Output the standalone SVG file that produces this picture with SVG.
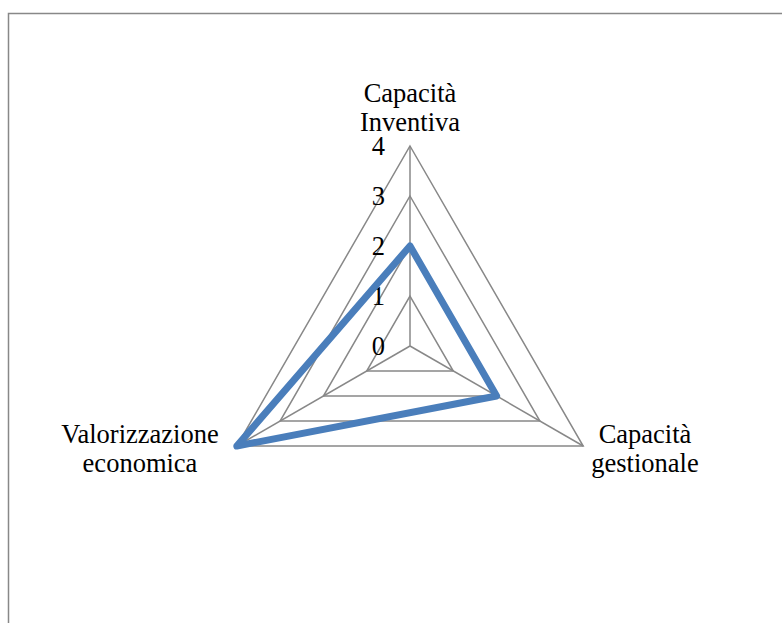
<svg xmlns="http://www.w3.org/2000/svg" width="782" height="623" viewBox="0 0 782 623">
<style>
text{font-family:"Liberation Serif","Times New Roman",serif;font-size:26.5px;fill:#000}
.g{fill:none;stroke:#888;stroke-width:1.5}
.lbl{text-anchor:middle}
.tick{text-anchor:end}
</style>
<rect x="0" y="0" width="782" height="623" fill="#fff"/>
<rect x="8.5" y="13.5" width="800" height="640" fill="none" stroke="#888" stroke-width="1.5"/>
<g id="grid">
<polygon class="g" points="410,296 453.3,371 366.7,371"/>
<polygon class="g" points="410,246 496.6,396 323.4,396"/>
<polygon class="g" points="410,196 539.9,421 280.1,421"/>
<polygon class="g" points="410,146 583.2,446 236.8,446"/>
<line class="g" x1="410" y1="346" x2="410" y2="146"/>
<line class="g" x1="410" y1="346" x2="583.2" y2="446"/>
<line class="g" x1="410" y1="346" x2="236.8" y2="446"/>
</g>
<g id="ticks">
<text class="tick" x="385" y="155">4</text>
<text class="tick" x="385" y="205">3</text>
<text class="tick" x="385" y="255">2</text>
<text class="tick" x="385" y="305">1</text>
<text class="tick" x="385" y="355">0</text>
</g>
<g id="series">
<polygon points="410,246 496.6,396 236.8,446" fill="none" stroke="#4a7ebb" stroke-width="7" stroke-linejoin="round"/>
</g>
<g id="axis-inventiva"><text class="lbl" x="410" y="102">Capacità</text><text class="lbl" x="410" y="131">Inventiva</text></g>
<g id="axis-gestionale"><text class="lbl" x="645" y="443">Capacità</text><text class="lbl" x="645" y="472">gestionale</text></g>
<g id="axis-valorizzazione"><text class="lbl" x="140" y="443">Valorizzazione</text><text class="lbl" x="140" y="472">economica</text></g>
</svg>
